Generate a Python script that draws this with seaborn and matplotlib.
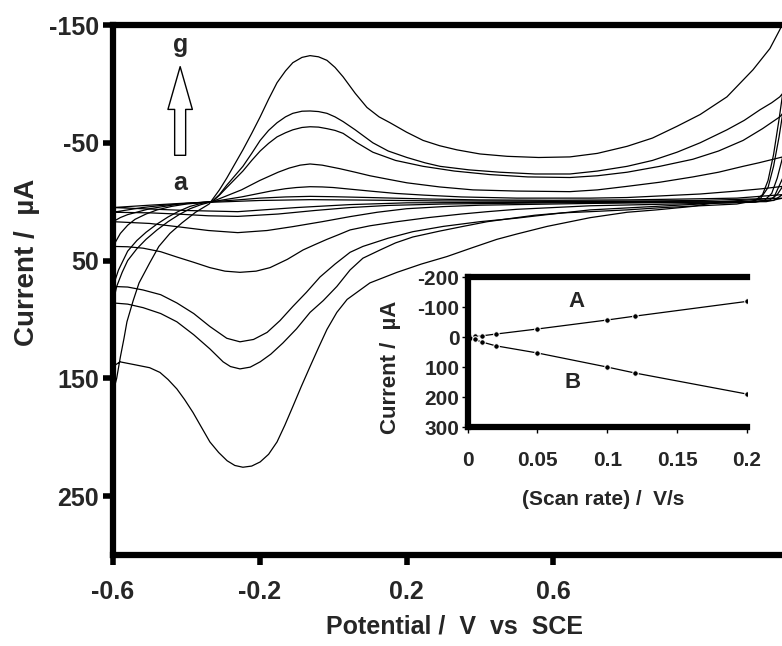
import numpy as np
import pandas as pd
import seaborn as sns
import matplotlib.pyplot as plt

# CV curves a..g : potential (V vs SCE) and current (uA), forward sweep then reverse sweep
g_E = [-0.6, -0.59, -0.58, -0.57, -0.562, -0.545, -0.529, -0.5, -0.475, -0.445, -0.412, -0.375, -0.338,
       -0.31, -0.29, -0.268, -0.246, -0.222, -0.199, -0.176, -0.153, -0.13, -0.11, -0.085, -0.063, -0.04, -0.017,
       0.005, 0.027, 0.06, 0.092, 0.125, 0.155, 0.2, 0.245, 0.29, 0.337, 0.4, 0.474, 0.56, 0.645, 0.72, 0.801,
       0.87, 0.937, 1.0, 1.073, 1.144, 1.19, 1.217, 1.24,
       1.235, 1.225, 1.2, 1.163, 1.054, 0.98, 0.88, 0.801, 0.70, 0.583, 0.5, 0.446, 0.38, 0.31, 0.24, 0.174, 0.1,
       0.038, 0.01, -0.017, -0.04, -0.063, -0.087, -0.11, -0.132, -0.153, -0.176, -0.199, -0.222, -0.246, -0.268,
       -0.289, -0.312, -0.336, -0.36, -0.382, -0.405, -0.426, -0.45, -0.472, -0.5, -0.54, -0.581, -0.6]
g_I = [162, 150, 132, 116, 102, 84, 69, 52, 38, 27, 18, 9, 2,
       -10, -20, -32, -44, -58, -72, -87, -101, -111, -118, -122.5, -124, -123, -120,
       -114, -106, -92, -80, -72, -67, -59, -52, -47.5, -44, -40.5, -38.5, -37.5, -38, -41, -47,
       -54, -64, -74, -89, -112, -130, -146, -162,
       -80, -20, -3, -2, 0, 4, 7, 9, 13.6, 21, 27.5, 32, 39, 46.6, 53, 60, 69,
       83, 94, 108.5, 124, 140, 157, 174, 190, 204, 214.5, 221, 224.5, 225.5, 224,
       220, 213, 204, 191, 179, 168, 159, 151, 145, 141, 138.5, 136, 140]

f_E = [-0.6, -0.59, -0.575, -0.56, -0.535, -0.51, -0.48, -0.45, -0.42, -0.39, -0.36, -0.33, -0.31, -0.29,
       -0.268, -0.246, -0.222, -0.199, -0.176, -0.153, -0.13, -0.11, -0.085, -0.063, -0.04, -0.017, 0.005, 0.027,
       0.06, 0.108, 0.15, 0.201, 0.25, 0.291, 0.37, 0.454, 0.55, 0.645, 0.72, 0.801, 0.87, 0.937, 1.0, 1.073,
       1.12, 1.163, 1.195, 1.217, 1.225,
       1.215, 1.2, 1.185, 1.17, 1.15, 1.1, 1.0, 0.9, 0.8, 0.70, 0.626, 0.55, 0.49, 0.42, 0.354, 0.29, 0.217, 0.17,
       0.128, 0.081, 0.046, 0.01, -0.027, -0.063, -0.1, -0.137, -0.17, -0.199, -0.226, -0.254, -0.28, -0.3,
       -0.336, -0.38, -0.426, -0.47, -0.518, -0.56, -0.6]
f_I = [86, 72, 60, 50, 40, 32, 24, 17, 11, 6, 2.5, 0, -6, -14,
       -22, -30, -41, -52, -60.5, -67, -72, -75, -76.8, -77, -76.5, -75, -72, -68,
       -61, -50, -43, -37.5, -33, -30, -27, -25, -23.5, -23.5, -26, -30, -35, -42, -50, -61,
       -69, -78, -84, -89, -92,
       -70, -40, -18, -6, -1, 2, 3.5, 5, 7, 8.5, 9.5, 11.5, 14, 17, 21, 25, 30, 35,
       41, 48, 58, 72, 84, 94, 108, 120, 129.5, 136, 140.5, 142, 140, 136,
       125, 113, 102, 95, 90, 87, 86]

e_E = [-0.6, -0.585, -0.56, -0.535, -0.51, -0.48, -0.45, -0.42, -0.39, -0.36, -0.33, -0.31, -0.29, -0.268,
       -0.246, -0.222, -0.199, -0.176, -0.153, -0.13, -0.11, -0.085, -0.063, -0.04, -0.017, 0.005, 0.027, 0.065,
       0.108, 0.17, 0.245, 0.33, 0.427, 0.53, 0.645, 0.72, 0.801, 0.89, 0.98, 1.05, 1.117, 1.17, 1.217, 1.225,
       1.215, 1.2, 1.185, 1.165, 1.14, 1.0, 0.85, 0.70, 0.583, 0.5, 0.4, 0.3, 0.217, 0.15, 0.081, 0.046, 0.005,
       -0.036, -0.073, -0.11, -0.145, -0.18, -0.217, -0.254, -0.29, -0.336, -0.38, -0.426, -0.47, -0.518, -0.56, -0.6]
e_I = [72, 58, 42, 33, 26, 19, 13, 8, 4, 1.5, 0, -5.5, -12, -19,
       -26, -35, -43, -49.5, -55, -58.5, -61, -63, -63.6, -63.3, -62, -60.5, -58, -50,
       -42, -35, -30, -26, -23, -21, -20.5, -22, -25, -30, -36, -43, -52, -62, -72, -75,
       -55, -30, -12, -3, 0, 2, 4.5, 7, 11, 14, 17, 21, 25.5, 31, 38, 43, 53,
       64, 77, 89, 101, 111, 117, 119, 116, 106, 95, 86, 79, 75, 72.5, 72]

d_E = [-0.6, -0.58, -0.56, -0.54, -0.51, -0.48, -0.44, -0.4, -0.33, -0.29, -0.25, -0.2, -0.15, -0.12, -0.09,
       -0.063, -0.03, 0.018, 0.06, 0.1, 0.15, 0.201, 0.29, 0.381, 0.5, 0.645, 0.72, 0.801, 0.89, 0.98, 1.05, 1.117,
       1.16, 1.199, 1.225,
       1.21, 1.195, 1.175, 1.15, 1.0, 0.85, 0.7, 0.6, 0.5, 0.42, 0.35, 0.26, 0.174, 0.1, 0.046, 0.015, -0.017,
       -0.05, -0.082, -0.125, -0.172, -0.21, -0.254, -0.295, -0.336, -0.38, -0.426, -0.47, -0.518, -0.56, -0.6]
d_I = [38, 27, 20, 15, 10.5, 7, 4, 2, 0, -5, -10, -18, -25, -28.5, -31,
       -32, -31, -28, -25, -22, -19, -16, -12.5, -10, -9, -8.5, -10, -13, -16.5, -21, -25, -30,
       -33, -36, -38,
       -20, -7, -1, 0.5, 1.5, 2.5, 3.5, 5, 6.5, 8.5, 10.5, 13.5, 17, 20.5, 24, 28, 32,
       36.5, 41, 49, 56, 59, 60, 59, 56, 51.5, 47, 42.5, 39.5, 38.3, 38]

c_E = [-0.6, -0.58, -0.56, -0.53, -0.5, -0.46, -0.42, -0.38, -0.33, -0.29, -0.25, -0.21, -0.17, -0.13, -0.1,
       -0.063, -0.03, 0.0, 0.05, 0.1, 0.17, 0.25, 0.35, 0.5, 0.7, 0.8, 0.9, 1.0, 1.1, 1.17, 1.225,
       1.21, 1.19, 1.15, 1.0, 0.7, 0.5, 0.4, 0.3, 0.2, 0.12, 0.046, -0.03, -0.11, -0.18, -0.26, -0.34, -0.426,
       -0.5, -0.6]
c_I = [17, 13.5, 11, 8.5, 6, 4, 2, 1, 0, -2, -4, -6.5, -9, -11, -12,
       -12.7, -12.5, -12, -10.5, -9, -7, -5.5, -4, -3, -3, -3.5, -5, -6.5, -9, -11, -13,
       -6, -1.5, 0, 0.5, 1.5, 2.5, 3, 4.2, 6, 9, 12.7, 17, 21.2, 24.5, 26.3, 24.5, 21.2,
       18.5, 17]

b_E = [-0.6, -0.56, -0.52, -0.47, -0.42, -0.33, -0.26, -0.2, -0.13, -0.063, 0.0, 0.1, 0.25, 0.4, 0.6, 0.8,
       0.95, 1.1, 1.225,
       1.2, 1.1, 0.6, 0.3, 0.15, 0.046, -0.05, -0.15, -0.26, -0.34, -0.426, -0.5, -0.6]
b_I = [9, 7, 5, 3.3, 2, 0, -1.5, -3, -4, -4.5, -4.2, -3.5, -2.3, -1.5, -1.2, -1.5,
       -2.2, -3, -6,
       -1, 0, 1, 2, 3.2, 5, 7.5, 10.5, 12.5, 12, 10.5, 9.5, 9]

a_E = [-0.6, -0.5, -0.4, -0.33, -0.2, -0.063, 0.1, 0.3, 0.8, 1.0, 1.225,
       1.18, 0.6, 0.2, 0.046, -0.1, -0.26, -0.4, -0.6]
a_I = [5, 3, 1.2, 0.5, -1, -1.7, -1.3, -0.6, -0.5, -1, -3,
       0, 0.5, 1, 2.5, 5, 8.5, 7.5, 5]

# inset: peak currents vs scan rate
scan_rate = [0.002, 0.005, 0.01, 0.02, 0.05, 0.1, 0.12, 0.2]
ipa = [-1, -2, -4, -10, -27, -57, -70, -119]   # A
ipc = [3, 8, 16, 29, 53, 100, 120, 190]        # B

sns.set_style("white")
plt.rcParams['font.family'] = ['Liberation Sans', 'DejaVu Sans']
plt.rcParams['font.weight'] = 'bold'
plt.rcParams['axes.unicode_minus'] = False

fig = plt.figure(figsize=(7.82, 6.46), dpi=100)
ax = fig.add_axes([0.1445, 0.1409, 0.8555, 0.8204])

for E, I in [(a_E, a_I), (b_E, b_I), (c_E, c_I), (d_E, d_I), (e_E, e_I), (f_E, f_I), (g_E, g_I)]:
    sns.lineplot(x=E, y=I, sort=False, estimator=None, color='black', lw=0.9, ax=ax)

ax.set_xlim(-0.6, 1.223)
ax.set_ylim(300, -150)
ax.set_xticks([-0.6, -0.2, 0.2, 0.6])
ax.set_xticklabels(['-0.6', '-0.2', '0.2', '0.6'])
ax.set_yticks([-150, -50, 50, 150, 250])
ax.set_yticklabels(['-150', '-50', '50', '150', '250'])
ax.tick_params(axis='both', labelsize=18, width=4, length=7, direction='out', color='black')
ax.tick_params(axis='x', pad=11)
ax.tick_params(axis='y', pad=3)
for s in ['left', 'bottom', 'top']:
    ax.spines[s].set_linewidth(4.5)
    ax.spines[s].set_color('black')
ax.spines['right'].set_visible(False)
ax.xaxis.set_ticks_position('bottom')
ax.yaxis.set_ticks_position('left')

ax.set_xlabel("Potential /  V  vs  SCE", fontsize=18, fontweight='bold')
ax.xaxis.set_label_coords(0.51, -0.112)
ax.set_ylabel("Current /  \u00b5A", fontsize=20, fontweight='bold')
ax.yaxis.set_label_coords(-0.109, 0.553)

# arrow a -> g
ax.annotate('', xy=(-0.417, -117), xytext=(-0.417, -37),
            arrowprops=dict(arrowstyle='simple,head_length=1.4,head_width=0.8,tail_width=0.36',
                            fc='white', ec='black', lw=1, mutation_scale=22))
ax.text(-0.417, -133, 'g', fontsize=18, fontweight='bold', ha='center', va='center')
ax.text(-0.417, -16, 'a', fontsize=18, fontweight='bold', ha='center', va='center')

# inset
ins = fig.add_axes([0.598, 0.339, 0.357, 0.232])
ins.set_facecolor('white')
sns.lineplot(x=scan_rate, y=ipa, color='black', lw=0.9, marker='o', markersize=4, ax=ins)
sns.lineplot(x=scan_rate, y=ipc, color='black', lw=0.9, marker='o', markersize=4, ax=ins)
ins.set_xlim(0, 0.2)
ins.set_ylim(300, -200)
ins.set_xticks([0, 0.05, 0.1, 0.15, 0.2])
ins.set_xticklabels(['0', '0.05', '0.1', '0.15', '0.2'])
ins.set_yticks([-200, -100, 0, 100, 200, 300])
ins.set_yticklabels(['-200', '-100', '0', '100', '200', '300'])
ins.tick_params(axis='both', labelsize=15, width=1, length=4, direction='out', color='black')
ins.tick_params(axis='x', pad=13)
ins.tick_params(axis='y', pad=2)
for s in ['left', 'bottom', 'top']:
    ins.spines[s].set_linewidth(4.5)
    ins.spines[s].set_color('black')
ins.spines['right'].set_visible(False)
ins.xaxis.set_ticks_position('bottom')
ins.yaxis.set_ticks_position('left')
ins.set_xlabel("(Scan rate) /  V/s", fontsize=15, fontweight='bold')
ins.xaxis.set_label_coords(0.484, -0.42)
ins.set_ylabel("Current /  \u00b5A", fontsize=16, fontweight='bold')
ins.yaxis.set_label_coords(-0.237, 0.4)
ins.text(0.078, -120, 'A', fontsize=16, fontweight='bold', ha='center', va='center')
ins.text(0.075, 150, 'B', fontsize=16, fontweight='bold', ha='center', va='center')

fig.savefig('out.png', dpi=100)
